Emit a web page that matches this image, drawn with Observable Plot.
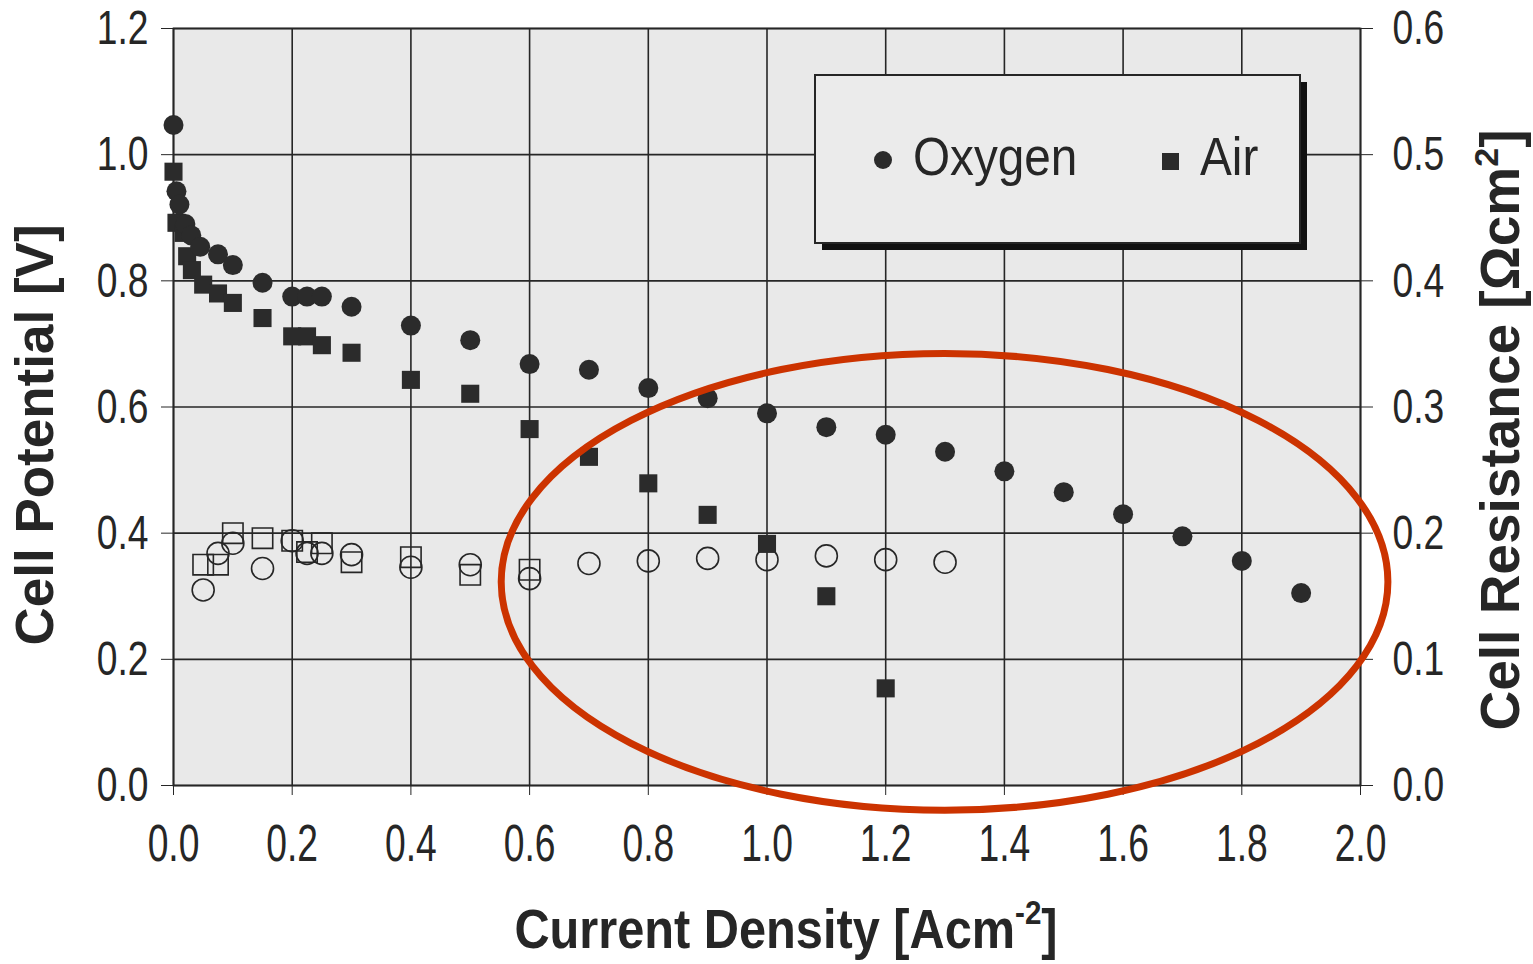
<!DOCTYPE html>
<html><head><meta charset="utf-8">
<script src="https://cdn.jsdelivr.net/npm/d3@7"></script>
<script src="https://cdn.jsdelivr.net/npm/@observablehq/plot@0.6"></script>
<style>
html,body{margin:0;padding:0;background:#fff;}
#chart{position:relative;width:1533px;height:964px;}
</style></head><body><div id="chart"></div>
<script>
// ---- data ----
const xTicks = [0, 0.2, 0.4, 0.6, 0.8, 1.0, 1.2, 1.4, 1.6, 1.8, 2.0];
const xTickLabels = ["0.0","0.2","0.4","0.6","0.8","1.0","1.2","1.4","1.6","1.8","2.0"];
const yTicks = [0, 0.2, 0.4, 0.6, 0.8, 1.0, 1.2];
const yTickLabels = ["0.0","0.2","0.4","0.6","0.8","1.0","1.2"];
const rTickLabels = ["0.0","0.1","0.2","0.3","0.4","0.5","0.6"];

// Oxygen cell potential (V) vs current density (A/cm2)
const oxyX = [0, 0.005, 0.01, 0.02, 0.03, 0.045, 0.075, 0.1, 0.15, 0.2, 0.225, 0.25, 0.3, 0.4, 0.5, 0.6, 0.7, 0.8, 0.9, 1.0, 1.1, 1.2, 1.3, 1.4, 1.5, 1.6, 1.7, 1.8, 1.9];
const oxyV = [1.047, 0.942, 0.921, 0.89, 0.872, 0.854, 0.842, 0.825, 0.797, 0.775, 0.775, 0.775, 0.759, 0.729, 0.706, 0.668, 0.659, 0.630, 0.614, 0.590, 0.568, 0.556, 0.529, 0.498, 0.465, 0.430, 0.395, 0.356, 0.305];

// Air cell potential (V)
const airX = [0, 0.005, 0.017, 0.023, 0.031, 0.05, 0.075, 0.1, 0.15, 0.2, 0.225, 0.25, 0.3, 0.4, 0.5, 0.6, 0.7, 0.8, 0.9, 1.0, 1.1, 1.2];
const airV = [0.973, 0.892, 0.876, 0.839, 0.817, 0.794, 0.780, 0.765, 0.741, 0.712, 0.712, 0.698, 0.686, 0.643, 0.621, 0.565, 0.521, 0.479, 0.429, 0.383, 0.300, 0.154];

// Oxygen cell resistance (Ohm cm2)
const oxyRX = [0.05, 0.075, 0.1, 0.15, 0.2, 0.225, 0.25, 0.3, 0.4, 0.5, 0.6, 0.7, 0.8, 0.9, 1.0, 1.1, 1.2, 1.3];
const oxyR  = [0.155, 0.184, 0.192, 0.172, 0.194, 0.184, 0.184, 0.183, 0.173, 0.175, 0.164, 0.176, 0.178, 0.180, 0.179, 0.182, 0.179, 0.177];

// Air cell resistance (Ohm cm2)
const airRX = [0.05, 0.075, 0.1, 0.15, 0.2, 0.225, 0.25, 0.3, 0.4, 0.5, 0.6];
const airR  = [0.175, 0.175, 0.200, 0.196, 0.194, 0.185, 0.192, 0.177, 0.181, 0.167, 0.171];

// right axis (resistance) maps onto the potential axis: 0.6 Ohm cm2 <-> 1.2 V
const rFactor = 1.2 / 0.6;

const oxygen = oxyX.map((x, i) => ({x, v: oxyV[i]}));
const air = airX.map((x, i) => ({x, v: airV[i]}));
const oxyRes = oxyRX.map((x, i) => ({x, r: oxyR[i]}));
const airRes = airRX.map((x, i) => ({x, r: airR[i]}));

const ink = "#262626";
const sans = "'Liberation Sans',Arial,Helvetica,sans-serif";

const chart = Plot.plot({
  width: 1533, height: 964,
  marginLeft: 173, marginRight: 173, marginTop: 28, marginBottom: 179,
  style: {background: "transparent", fontFamily: sans, fontSize: "50px", color: ink},
  x: {domain: [0, 2]},
  y: {domain: [0, 1.2]},
  marks: [
    Plot.frame({fill: "#e9e9e9", stroke: "none"}),
    Plot.gridX(xTicks, {stroke: ink, strokeOpacity: 1, strokeWidth: 1.6}),
    Plot.gridY(yTicks, {stroke: ink, strokeOpacity: 1, strokeWidth: 1.6}),
    Plot.frame({stroke: ink, strokeWidth: 1.8}),
    Plot.axisX(xTicks, {tickFormat: d => xTickLabels[xTicks.indexOf(d)], tickSize: 10, tickPadding: 29, label: null, fontSize: 51}),
    Plot.axisY(yTicks, {anchor: "left", tickFormat: d => yTickLabels[yTicks.indexOf(d)], tickSize: 12, tickPadding: 13, label: null, fontSize: 49}),
    Plot.axisY(yTicks, {anchor: "right", tickFormat: d => rTickLabels[yTicks.indexOf(d)], tickSize: 12, tickPadding: 20, label: null, fontSize: 49}),
    Plot.dot(airRes, {x: "x", y: d => d.r * rFactor, symbol: "square", r: 11.5, stroke: ink, fill: "none", strokeWidth: 1.6}),
    Plot.dot(oxyRes, {x: "x", y: d => d.r * rFactor, symbol: "circle", r: 11, stroke: ink, fill: "none", strokeWidth: 1.6}),
    Plot.dot(air, {x: "x", y: "v", symbol: "square", r: 10.2, fill: "#2b2b2b", stroke: "none"}),
    Plot.dot(oxygen, {x: "x", y: "v", symbol: "circle", r: 10, fill: "#2b2b2b", stroke: "none"})
  ]
});
document.getElementById("chart").appendChild(chart);

const svg = d3.select(chart);
const sx = chart.scale("x"), sy = chart.scale("y");

// horizontally condense a text element about its anchor point
function squeeze(el, s, anchor) {
  const b = el.getBBox();
  const px = anchor === "end" ? b.x + b.width : anchor === "start" ? b.x : b.x + b.width / 2;
  const old = el.getAttribute("transform") || "";
  el.setAttribute("transform", `${old} translate(${px},0) scale(${s},1) translate(${-px},0)`);
}
svg.selectAll('g[aria-label="x-axis tick label"] text').each(function() { squeeze(this, 0.73, "middle"); });
svg.selectAll('g[aria-label="y-axis tick label"] text').each(function() {
  const a = getComputedStyle(this).textAnchor;
  squeeze(this, 0.76, a);
});

// axis titles
svg.append("text")
  .attr("transform", `translate(53,435) rotate(-90)`)
  .attr("text-anchor", "middle").attr("font-family", sans).attr("font-weight", "bold")
  .attr("font-size", 53).attr("fill", ink).text("Cell Potential [V]");

const rt = svg.append("text")
  .attr("transform", `translate(1519,430) rotate(-90)`)
  .attr("text-anchor", "middle").attr("font-family", sans).attr("font-weight", "bold")
  .attr("font-size", 55).attr("fill", ink);
rt.append("tspan").text("Cell Resistance [\u03A9cm");
rt.append("tspan").attr("font-size", 34).attr("dy", -21).text("2");
rt.append("tspan").attr("dy", 21).text("]");

const xt = svg.append("text")
  .attr("x", 786).attr("y", 948)
  .attr("text-anchor", "middle").attr("font-family", sans).attr("font-weight", "bold")
  .attr("font-size", 56).attr("fill", ink);
xt.append("tspan").text("Current Density [Acm");
xt.append("tspan").attr("font-size", 34).attr("dy", -24).text("-2");
xt.append("tspan").attr("dy", 24).text("]");
squeeze(xt.node(), 0.87, "middle");

// legend box with drop shadow
const lg = svg.append("g").attr("text-anchor", "start");
lg.append("rect").attr("x", 822).attr("y", 82).attr("width", 485).attr("height", 168).attr("fill", "#111");
lg.append("rect").attr("x", 815).attr("y", 75).attr("width", 485).attr("height", 168)
  .attr("fill", "#ebebeb").attr("stroke", ink).attr("stroke-width", 2);
lg.append("circle").attr("cx", 883).attr("cy", 160).attr("r", 9).attr("fill", "#2b2b2b");
const t1 = lg.append("text").attr("x", 913).attr("y", 175).attr("font-family", sans).attr("font-size", 53).attr("fill", ink).text("Oxygen");
lg.append("rect").attr("x", 1162).attr("y", 153).attr("width", 17).attr("height", 17).attr("fill", "#2b2b2b");
const t2 = lg.append("text").attr("x", 1200).attr("y", 175).attr("font-family", sans).attr("font-size", 53).attr("fill", ink).text("Air");
squeeze(t1.node(), 0.9, "start");
squeeze(t2.node(), 0.9, "start");

// red annotation ellipse
svg.append("ellipse")
  .attr("cx", sx.apply(1.3)).attr("cy", sy.apply(0.322))
  .attr("rx", sx.apply(1.3) - sx.apply(0.553)).attr("ry", sy.apply(0.322) - sy.apply(0.684))
  .attr("fill", "none").attr("stroke", "#cc3300").attr("stroke-width", 7);
</script>
</body></html>
